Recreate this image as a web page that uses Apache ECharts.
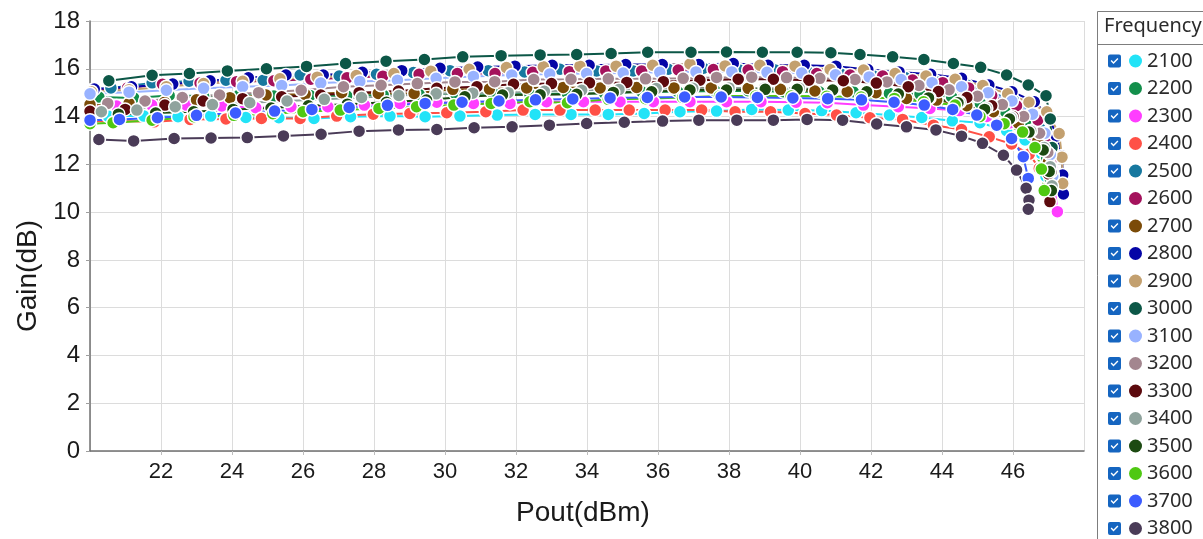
<!DOCTYPE html>
<html>
<head>
<meta charset="utf-8">
<script src="https://cdn.jsdelivr.net/npm/echarts@6/dist/echarts.min.js"></script>
<style>
  html, body { margin: 0; padding: 0; background: #fff; }
  #chart { width: 1203px; height: 539px; }
</style>
</head>
<body>
<div id="chart"></div>
<script>
// Gain vs. output power, one curve per frequency (MHz). Points are [Pout dBm, Gain dB].
const frequencies = ['2100', '2200', '2300', '2400', '2500', '2600', '2700', '2800', '2900',
                     '3000', '3100', '3200', '3300', '3400', '3500', '3600', '3700', '3800'];

const xTicks = { min: 20, max: 48, step: 2 };
const yTicks = { min: 0, max: 18, step: 2 };

const gain2100 = [[20.51,14.02],[21.52,14.02],[22.48,13.99],[23.4,14.02],[24.39,13.96],[25.32,13.95],[26.31,13.92],[27.34,13.99],[28.45,14.02],[29.44,13.99],[30.42,14.02],[31.47,14.06],[32.54,14.09],[33.55,14.09],[34.6,14.09],[35.61,14.13],[36.62,14.2],[37.65,14.23],[38.64,14.3],[39.67,14.27],[40.61,14.25],[41.58,14.16],[42.52,14.06],[43.43,13.96],[44.29,13.82],[45.07,13.74],[45.82,13.41],[46.34,13.02],[46.79,12.46],[46.93,11.49]];
const gain2200 = [[20.25,14.82],[21.23,14.78],[22.23,14.88],[23.2,14.86],[24.2,14.9],[25.18,14.86],[26.2,14.88],[27.23,14.87],[28.26,14.9],[29.27,14.93],[30.3,14.95],[31.36,14.97],[32.39,14.93],[33.45,14.97],[34.5,14.97],[35.54,15.04],[36.56,15.04],[37.61,15.07],[38.54,15.08],[39.53,15.04],[40.54,15.04],[41.5,15.04],[42.52,14.97],[43.38,14.94],[44.27,14.83],[45.08,14.55],[45.79,14.2],[46.36,13.78],[46.71,13.09],[46.95,12.25],[47.05,11.4]];
const gain2300 = [[19.75,14.42],[20.75,14.44],[21.74,14.48],[22.72,14.48],[23.71,14.44],[24.67,14.37],[25.66,14.41],[26.7,14.41],[27.73,14.48],[28.73,14.55],[29.77,14.6],[30.8,14.55],[31.83,14.55],[32.86,14.62],[33.9,14.62],[34.93,14.62],[35.87,14.62],[36.9,14.62],[37.93,14.62],[38.9,14.62],[39.89,14.6],[40.77,14.58],[41.79,14.48],[42.77,14.41],[43.66,14.34],[44.49,14.25],[45.26,14.0],[45.92,13.74],[46.55,13.23],[46.85,12.6],[47.09,11.83],[47.18,11.0],[47.25,10.02]];
const gain2400 = [[19.8,13.8],[20.75,13.81],[21.81,13.78],[22.82,13.88],[23.83,13.9],[24.83,13.92],[25.92,13.92],[26.95,14.02],[27.98,14.1],[29.01,14.13],[30.05,14.16],[31.15,14.2],[32.2,14.27],[33.24,14.27],[34.23,14.27],[35.19,14.27],[36.2,14.27],[37.23,14.27],[38.17,14.2],[39.17,14.2],[40.14,14.13],[41.03,14.06],[41.97,13.95],[42.89,13.88],[43.76,13.64],[44.55,13.46],[45.33,13.15],[45.96,12.85],[46.46,12.43],[46.74,11.83],[46.95,10.81]];
const gain2500 = [[19.6,15.05],[20.59,15.2],[21.75,15.41],[22.79,15.48],[23.83,15.52],[24.88,15.52],[25.92,15.74],[27.02,15.7],[28.07,15.77],[29.11,15.84],[30.14,15.92],[31.22,15.92],[32.24,15.87],[33.24,15.98],[34.27,15.91],[35.3,15.91],[36.29,15.98],[37.28,16.02],[38.29,15.95],[39.3,15.95],[40.21,15.88],[41.16,15.77],[42.07,15.7],[42.96,15.63],[43.83,15.46],[44.7,15.32],[45.3,15.04],[46.01,14.69],[46.53,14.13],[46.76,13.5],[46.9,12.75],[46.98,12.0]];
const gain2600 = [[20.05,15.1],[21.06,15.2],[22.04,15.35],[23.1,15.4],[24.13,15.46],[25.18,15.5],[26.22,15.56],[27.24,15.62],[28.25,15.69],[29.27,15.77],[30.35,15.8],[31.41,15.8],[32.47,15.85],[33.5,15.88],[34.53,15.91],[35.54,15.91],[36.57,15.95],[37.56,15.97],[38.54,15.95],[39.51,15.88],[40.47,15.8],[41.41,15.74],[42.33,15.7],[43.17,15.53],[44.02,15.42],[44.75,15.2],[45.4,14.88],[46.1,14.45],[46.7,13.86],[46.95,13.1],[47.08,12.2],[47.14,11.3]];
const gain2700 = [[20.0,14.5],[21.1,14.55],[22.1,14.6],[23.0,14.7],[23.94,14.79],[24.96,14.9],[26.06,14.93],[27.09,15.0],[28.12,14.97],[29.13,14.97],[30.22,15.14],[31.25,15.15],[32.3,15.2],[33.33,15.22],[34.37,15.2],[35.4,15.22],[36.45,15.2],[37.5,15.2],[38.54,15.18],[39.45,15.14],[40.42,15.07],[41.33,15.04],[42.14,15.0],[43.0,14.76],[43.85,14.69],[44.7,14.45],[45.45,14.2],[46.15,13.72],[46.7,13.0],[47.0,12.1],[47.12,11.2]];
const gain2800 = [[20.12,15.15],[21.17,15.25],[22.33,15.36],[23.38,15.5],[24.46,15.62],[25.52,15.74],[26.57,15.74],[27.67,15.85],[28.78,15.92],[29.86,16.02],[30.92,16.07],[31.97,16.11],[33.02,16.15],[34.06,16.15],[35.09,16.18],[36.12,16.18],[37.15,16.18],[38.12,16.22],[39.1,16.15],[40.12,16.15],[41.01,16.11],[41.91,15.97],[42.79,15.87],[43.68,15.77],[44.55,15.6],[45.32,15.32],[45.97,15.04],[46.6,14.62],[47.02,14.0],[47.22,13.19],[47.38,12.35],[47.4,11.55],[47.42,10.76]];
const gain2900 = [[20.04,15.04],[21.1,15.12],[22.15,15.25],[23.2,15.38],[24.3,15.48],[25.35,15.58],[26.4,15.65],[27.5,15.72],[28.56,15.8],[29.6,15.9],[30.68,15.98],[31.73,16.05],[32.77,16.08],[33.8,16.11],[34.82,16.11],[35.85,16.15],[36.9,16.2],[37.89,16.12],[38.87,16.15],[39.86,16.11],[40.85,15.97],[41.79,15.95],[42.68,15.8],[43.55,15.7],[44.37,15.56],[45.15,15.3],[45.85,14.95],[46.45,14.6],[46.95,14.2],[47.3,13.29],[47.38,12.3],[47.4,11.2]];
const gain3000 = [[20.53,15.5],[21.75,15.73],[22.8,15.8],[23.87,15.91],[24.97,16.0],[26.1,16.1],[27.2,16.22],[28.34,16.32],[29.42,16.39],[30.5,16.5],[31.58,16.55],[32.68,16.58],[33.71,16.6],[34.68,16.64],[35.71,16.69],[36.93,16.69],[37.93,16.7],[38.94,16.69],[39.92,16.69],[40.87,16.67],[41.69,16.6],[42.61,16.5],[43.49,16.39],[44.32,16.22],[45.09,16.06],[45.82,15.74],[46.43,15.32],[46.93,14.87],[47.05,13.9],[47.1,12.7],[47.12,11.6]];
const gain3100 = [[20.0,14.95],[21.1,15.02],[22.15,15.1],[23.2,15.18],[24.3,15.25],[25.4,15.3],[26.5,15.4],[27.6,15.47],[28.66,15.52],[29.75,15.6],[30.8,15.68],[31.88,15.74],[32.95,15.78],[33.99,15.8],[35.02,15.82],[36.05,15.85],[37.07,15.87],[38.08,15.87],[39.07,15.85],[40.05,15.82],[41.0,15.75],[41.95,15.66],[42.85,15.55],[43.72,15.42],[44.55,15.25],[45.3,15.0],[45.97,14.65],[46.55,14.1],[46.9,13.3],[47.05,12.4],[47.12,11.5]];
const gain3200 = [[20.5,14.55],[21.55,14.65],[22.6,14.8],[23.65,14.9],[24.75,15.0],[25.95,15.1],[27.14,15.25],[28.2,15.31],[29.22,15.38],[30.28,15.45],[31.4,15.46],[32.5,15.55],[33.55,15.56],[34.6,15.58],[35.65,15.58],[36.71,15.6],[37.65,15.64],[38.64,15.65],[39.62,15.63],[40.56,15.6],[41.55,15.55],[42.45,15.45],[43.35,15.3],[44.2,15.12],[45.0,14.85],[45.7,14.5],[46.3,14.0],[46.75,13.3],[46.98,12.5],[47.08,11.7],[47.1,11.0]];
const gain3300 = [[20.0,14.22],[20.99,14.3],[22.11,14.48],[23.19,14.65],[24.3,14.75],[25.4,14.83],[26.5,14.9],[27.58,15.0],[28.69,15.07],[29.77,15.18],[30.9,15.25],[31.93,15.35],[33.0,15.38],[34.07,15.41],[35.12,15.43],[36.15,15.46],[37.18,15.52],[38.26,15.56],[39.25,15.56],[40.25,15.52],[41.22,15.5],[42.15,15.4],[43.05,15.25],[43.9,15.05],[44.7,14.8],[45.4,14.45],[46.0,14.0],[46.5,13.4],[46.85,12.6],[47.0,11.6],[47.04,10.44]];
const gain3400 = [[20.32,14.2],[21.32,14.27],[22.4,14.41],[23.45,14.5],[24.5,14.58],[25.55,14.65],[26.6,14.72],[27.65,14.8],[28.7,14.88],[29.75,14.95],[30.78,14.98],[31.78,15.0],[32.8,15.06],[33.85,15.1],[34.9,15.13],[35.95,15.17],[36.98,15.18],[38.0,15.2],[39.0,15.2],[39.98,15.18],[40.95,15.12],[41.88,15.05],[42.78,14.93],[43.65,14.78],[44.5,14.6],[45.25,14.35],[45.95,13.95],[46.5,13.4],[46.88,12.7],[47.05,11.9],[47.1,11.1]];
const gain3500 = [[20.8,14.1],[21.85,14.15],[22.92,14.2],[24.03,14.3],[25.1,14.36],[26.15,14.45],[27.25,14.52],[28.35,14.6],[29.48,14.69],[30.56,14.83],[31.62,14.9],[32.68,14.91],[33.71,14.93],[34.74,15.01],[35.82,15.04],[36.9,15.11],[37.93,15.11],[39.02,15.14],[39.92,15.14],[40.92,15.11],[41.88,15.04],[42.77,14.94],[43.62,14.78],[44.45,14.58],[45.2,14.3],[45.9,13.9],[46.45,13.35],[46.85,12.6],[47.02,11.7],[47.08,10.9]];
const gain3600 = [[20.0,13.7],[20.65,13.74],[21.75,13.85],[22.93,13.99],[24.05,14.05],[25.15,14.12],[26.0,14.2],[27.05,14.27],[28.14,14.34],[29.2,14.41],[30.25,14.48],[31.3,14.55],[32.39,14.62],[33.45,14.58],[34.6,14.72],[35.65,14.75],[36.69,14.8],[37.73,14.86],[38.75,14.86],[39.75,14.86],[40.75,14.85],[41.72,14.82],[42.66,14.76],[43.48,14.62],[44.37,14.48],[45.07,14.0],[45.75,13.7],[46.27,13.35],[46.62,12.7],[46.8,11.8],[46.88,10.9]];
const gain3700 = [[20.0,13.85],[20.83,13.88],[21.9,13.95],[23.0,14.05],[24.1,14.15],[25.2,14.23],[26.25,14.3],[27.3,14.38],[28.38,14.47],[29.44,14.55],[30.48,14.6],[31.52,14.65],[32.55,14.7],[33.6,14.74],[34.65,14.78],[35.7,14.8],[36.75,14.82],[37.78,14.82],[38.8,14.8],[39.8,14.78],[40.78,14.75],[41.73,14.7],[42.65,14.6],[43.5,14.48],[44.3,14.3],[44.98,14.06],[45.54,13.64],[45.96,13.08],[46.29,12.32],[46.43,11.41],[46.45,10.5]];
const gain3800 = [[20.25,13.04],[21.23,12.98],[22.37,13.08],[23.41,13.1],[24.43,13.12],[25.45,13.19],[26.51,13.26],[27.58,13.39],[28.69,13.44],[29.77,13.46],[30.82,13.53],[31.89,13.57],[32.94,13.64],[33.99,13.71],[35.05,13.76],[36.13,13.81],[37.15,13.85],[38.22,13.85],[39.25,13.85],[40.2,13.88],[41.2,13.85],[42.16,13.69],[43.0,13.57],[43.83,13.44],[44.55,13.18],[45.14,12.88],[45.73,12.38],[46.1,11.76],[46.37,11.0],[46.45,10.5],[46.43,10.12]];

const curves = [gain2100, gain2200, gain2300, gain2400, gain2500, gain2600, gain2700, gain2800, gain2900,
                gain3000, gain3100, gain3200, gain3300, gain3400, gain3500, gain3600, gain3700, gain3800];

const palette = ['#22e3f7', '#138f4b', '#ff3dff', '#ff5046', '#17789f', '#a4125c', '#7b4b08', '#0505a6', '#c3a06f',
                 '#0c5747', '#98b2ff', '#a3868f', '#5c0a0e', '#8fa39d', '#1c4a12', '#4fc812', '#3c5cff', '#4a3b57'];

// Checkbox glyph for the legend: rounded square with a check-mark cut out (reverse winding).
const checkboxPath = 'path://M2,0H11Q13,0 13,2V11Q13,13 11,13H2Q0,13 0,11V2Q0,0 2,0Z' +
                     'M2.6,6.4L5.5,9.5L10.4,4.5L9.4,3.6L5.5,7.5L3.6,5.5Z';

const chart = echarts.init(document.getElementById('chart'), null, { renderer: 'canvas' });

const legendFont = '"Noto Sans", "Open Sans", sans-serif';
const axisFont = '"Liberation Sans", Arial, sans-serif';

chart.setOption({
  animation: false,
  backgroundColor: '#ffffff',
  grid: { left: 90, right: 119, top: 21, bottom: 88, containLabel: false },
  xAxis: {
    type: 'value',
    min: xTicks.min, max: xTicks.max, interval: xTicks.step,
    name: 'Pout(dBm)', nameLocation: 'middle', nameGap: 48,
    nameTextStyle: { fontFamily: axisFont, fontSize: 28, color: '#1a1a1a', padding: [0, 8, 0, 0] },
    axisLine: { show: true, onZero: false, lineStyle: { color: '#707070', width: 1.5 } },
    axisTick: { show: true, length: 4, lineStyle: { color: '#bdbdbd' } },
    axisLabel: { showMinLabel: false, showMaxLabel: false, fontFamily: axisFont, fontSize: 22, color: '#1a1a1a', margin: 10 },
    splitLine: { show: true, lineStyle: { color: '#dcdcdc', width: 1 } }
  },
  yAxis: {
    type: 'value',
    min: yTicks.min, max: yTicks.max, interval: yTicks.step,
    name: 'Gain(dB)', nameLocation: 'middle', nameGap: 48,
    nameTextStyle: { fontFamily: axisFont, fontSize: 28, color: '#1a1a1a', padding: [0, 80, 0, 0] },
    axisLine: { show: true, lineStyle: { color: '#707070', width: 1.5 } },
    axisTick: { show: true, length: 4, lineStyle: { color: '#9e9e9e' } },
    axisLabel: { fontFamily: axisFont, fontSize: 24, color: '#1a1a1a', margin: 10 },
    splitLine: { show: true, lineStyle: { color: '#dcdcdc', width: 1 } }
  },
  legend: [
    {
      // checkbox column
      orient: 'vertical', left: 1103, top: 46, height: 520,
      itemWidth: 13, itemHeight: 13, itemGap: 7.5,
      icon: checkboxPath,
      itemStyle: { color: '#1565c0', borderWidth: 0 },
      formatter: () => ' ',
      textStyle: { fontSize: 20, lineHeight: 20, fontFamily: legendFont },
      data: frequencies
    },
    {
      // frequency swatches and labels
      orient: 'vertical', left: 1124, top: 46, height: 520,
      itemWidth: 13, itemHeight: 13, itemGap: 7.5,
      icon: 'circle',
      itemStyle: { borderWidth: 0 },
      textStyle: { fontSize: 20, lineHeight: 20, fontFamily: legendFont, color: '#2b2b2b' },
      data: frequencies
    }
  ],
  graphic: [
    {
      type: 'rect', z: 1, silent: true,
      shape: { x: 1097.5, y: 11.5, width: 200, height: 600 },
      style: { fill: '#ffffff', stroke: '#7d7d7d', lineWidth: 1 }
    },
    {
      type: 'line', z: 2, silent: true,
      shape: { x1: 1097.5, y1: 44.5, x2: 1210, y2: 44.5 },
      style: { stroke: '#7d7d7d', lineWidth: 1 }
    },
    {
      type: 'text', z: 2, silent: true, left: 1104, top: 16,
      style: { text: 'Frequency', font: '20px "Noto Sans", "Open Sans", sans-serif', fill: '#2b2b2b' }
    }
  ],
  series: frequencies.map((f, i) => ({
    name: f,
    type: 'line',
    data: curves[i],
    symbol: 'circle',
    symbolSize: 13,
    showAllSymbol: true,
    clip: true,
    color: palette[i],
    lineStyle: { width: 2, color: palette[i] },
    itemStyle: { color: palette[i], borderColor: '#ffffff', borderWidth: 1.5 },
    emphasis: { disabled: true }
  }))
});
</script>
</body>
</html>
